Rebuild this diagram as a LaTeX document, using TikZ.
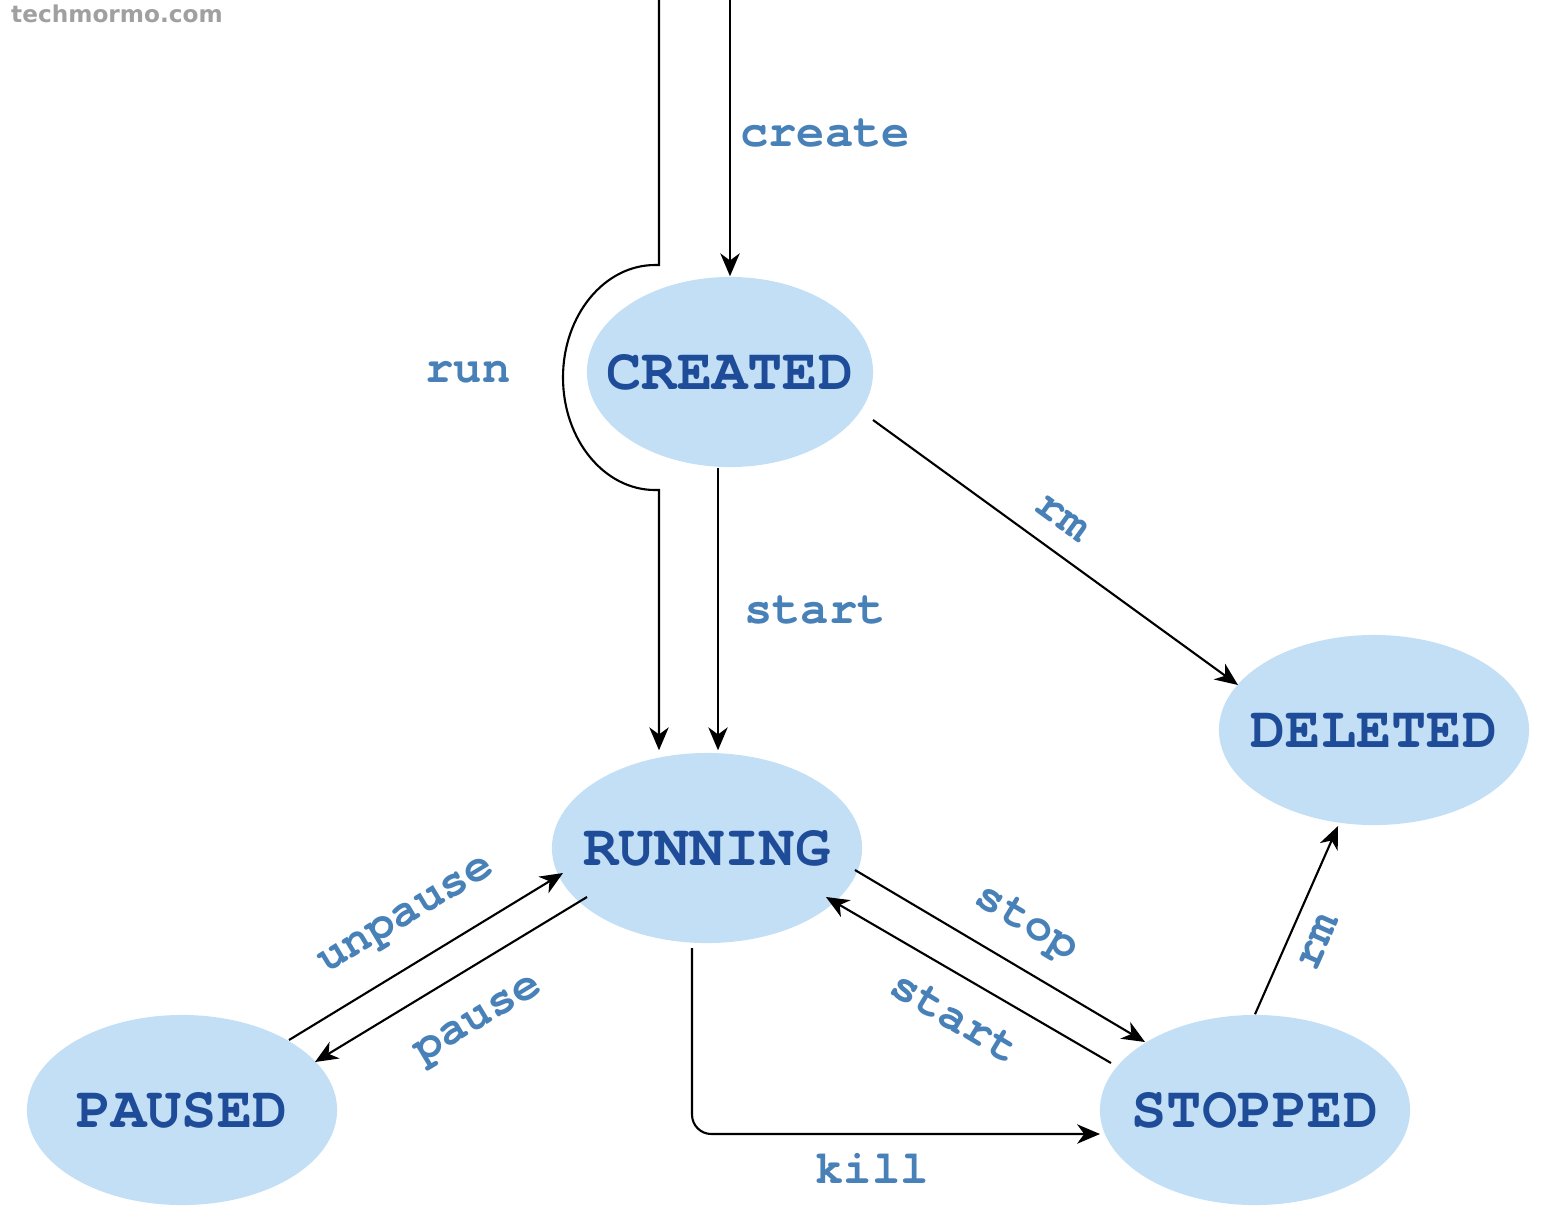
\documentclass[tikz,border=0pt]{standalone}
\usepackage{fontspec}
\newfontfamily\statefont{texgyrecursor}[Extension=.otf, UprightFont=*-regular, BoldFont=*-bold]
\newfontfamily\markfont{DejaVu Sans}
\usetikzlibrary{arrows.meta, shapes.geometric}

\definecolor{statefill}{RGB}{194,223,245}
\definecolor{statetext}{RGB}{31,76,152}
\definecolor{cmdtext}{RGB}{72,128,184}
\definecolor{markgray}{RGB}{160,160,160}

\newcommand{\statename}[1]{\makebox[0pt]{#1}}

\begin{document}
\begin{tikzpicture}[x=0.01cm, y=-0.01cm, >={Stealth[length=6.5pt, width=5.5pt, inset=2pt]},
    state/.style={ellipse, fill=statefill, inner sep=0pt, minimum width=3.1cm, minimum height=1.9cm,
      text=statetext, font=\statefont\bfseries\fontsize{16.7}{20}\selectfont},
    cmd/.style={text=cmdtext, inner sep=0pt, font=\statefont\bfseries\fontsize{13.4}{16}\selectfont},
    flow/.style={->, line width=0.6pt}]

    \useasboundingbox (0,0) rectangle (1548,1220);

    % watermark
    \node[text=markgray, font=\markfont\bfseries\fontsize{6.6}{8}\selectfont] (mark) at (117,14) {techmormo.com};

    %% states
    \node[state, minimum width=2.86cm] (created) at (730,372) {\statename{CREATED}};
    \node[state] (deleted) at (1374,730) {\statename{DELETED}};
    \node[state] (running) at (707,848) {\statename{RUNNING}};
    \node[state] (paused)  at (182,1110) {\statename{PAUSED}};
    \node[state] (stopped) at (1255,1110) {\statename{STOPPED}};

    %% entry from above
    \coordinate (top1) at (730,0);
    \coordinate (top2) at (659,0);

    % 1. create
    \draw[flow] (top1) -- (created.north);
    \node[cmd] (create) at (825,133) {create};

    % 2. run (around CREATED)
    \draw[flow] (top2) -- (659,265) -- (655,265)
      arc[start angle=270, end angle=90, x radius=92, y radius=112.5]
      -- (659,490) -- ([shift={(-48,-2)}]running.north);
    \node[cmd] (run) at (468,372) {run};

    % 3. start
    \draw[flow] ([shift={(-12,0)}]created.south) -- ([shift={(11,-2)}]running.north);
    \node[cmd] (start1) at (815,610) {start};

    % 4. rm (created)
    \draw[flow] ([shift={(143,48)}]created.center) -- ([shift={(-136,-45)}]deleted.center);
    \node[cmd, rotate=-36] (rm1) at (1062,518) {rm};

    %% running <-> paused
    % 5. unpause
    \draw[flow] ([shift={(107,-70)}]paused.center) -- ([shift={(-144,25)}]running.center);
    \node[cmd, rotate=31] (unpause) at (408,918) {unpause};

    % 6. pause
    \draw[flow] ([shift={(-120,49)}]running.center) -- ([shift={(133,-48)}]paused.center);
    \node[cmd, rotate=31] (pause) at (480,1022) {pause};

    %% running <-> stopped
    % 7. stop
    \draw[flow] ([shift={(148,22)}]running.center) -- ([shift={(-110,-68)}]stopped.center);
    \node[cmd, rotate=-31] (stop) at (1026,924) {stop};

    % 8. start (again)
    \draw[flow] ([shift={(-144,-47)}]stopped.center) -- ([shift={(119,49)}]running.center);
    \node[cmd, rotate=-31] (start2) at (955,1017) {start};

    % 9. kill
    \draw[flow, rounded corners=5.5pt] ([shift={(-15,100)}]running.center) |- ([shift={(-155,24)}]stopped.center);
    \node[cmd] (kill) at (872,1168) {kill};

    % 10. rm (stopped)
    \draw[flow] (stopped.north) -- ([shift={(-36,96)}]deleted.center);
    \node[cmd, rotate=66] (rm2) at (1318,942) {rm};

\end{tikzpicture}
\end{document}
